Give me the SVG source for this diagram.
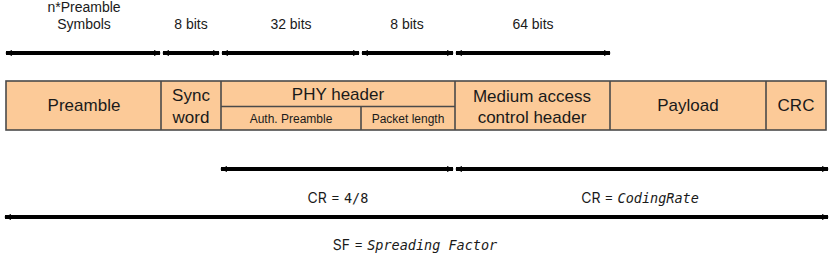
<svg xmlns="http://www.w3.org/2000/svg" width="833" height="256" viewBox="0 0 833 256">
<style>
.box{fill:#fcca98;stroke:#4a4a4a;stroke-width:1.6}
.div{stroke:#4a4a4a;stroke-width:1.6;fill:none}
.lbl{font-family:"Liberation Sans",Arial,sans-serif;fill:#1a1a1a;text-anchor:middle}
.big{font-size:17px}
.sm{font-size:12px}
.top{font-size:14px}
.dim{stroke:#000;stroke-width:4;fill:none;marker-start:url(#ah);marker-end:url(#ah)}
.cr{font-family:Inter,"Liberation Sans",sans-serif;font-size:14px;fill:#1a1a1a;text-anchor:middle}
.mono{font-family:"DejaVu Sans Mono","Liberation Mono",monospace;font-size:13.5px}
.it{font-style:italic}
</style>
<defs>
<marker id="ah" viewBox="0 0 8 8" refX="7" refY="4" markerWidth="7" markerHeight="7" markerUnits="userSpaceOnUse" orient="auto-start-reverse">
<path d="M0,0.5 L8,4 L0,7.5 z" fill="#000"/>
</marker>
</defs>

<g id="top-labels">
<text class="lbl top" x="84" y="12">n*Preamble</text>
<text class="lbl top" x="84" y="29">Symbols</text>
<text class="lbl top" x="191" y="29">8 bits</text>
<text class="lbl top" x="291" y="29">32 bits</text>
<text class="lbl top" x="407" y="29">8 bits</text>
<text class="lbl top" x="533" y="29">64 bits</text>
</g>

<g id="frame">
<rect class="box" x="6" y="81" width="820" height="49"/>
</g>
<g id="preamble">
<text class="lbl big" x="84" y="111">Preamble</text>
</g>
<g id="sync-word">
<line class="div" x1="161" y1="81" x2="161" y2="130"/>
<text class="lbl big" x="191" y="101">Sync</text>
<text class="lbl big" x="191" y="123">word</text>
</g>
<g id="phy-header">
<line class="div" x1="221" y1="81" x2="221" y2="130"/>
<line class="div" x1="221" y1="106.5" x2="455" y2="106.5"/>
<text class="lbl big" x="338" y="100">PHY header</text>
</g>
<g id="auth-preamble">
<text class="lbl sm" x="291" y="123">Auth. Preamble</text>
</g>
<g id="packet-length">
<line class="div" x1="361" y1="106.5" x2="361" y2="130"/>
<text class="lbl sm" x="408" y="123">Packet length</text>
</g>
<g id="mac-header">
<line class="div" x1="455" y1="81" x2="455" y2="130"/>
<text class="lbl big" x="532" y="102">Medium access</text>
<text class="lbl big" x="532" y="123">control header</text>
</g>
<g id="payload">
<line class="div" x1="610" y1="81" x2="610" y2="130"/>
<text class="lbl big" x="688" y="111">Payload</text>
</g>
<g id="crc">
<line class="div" x1="766" y1="81" x2="766" y2="130"/>
<text class="lbl big" x="796" y="111">CRC</text>
</g>

<g id="connectors">
<line class="dim" x1="6" y1="53" x2="160" y2="53"/>
<line class="dim" x1="163" y1="53" x2="219" y2="53"/>
<line class="dim" x1="222" y1="53" x2="359" y2="53"/>
<line class="dim" x1="362" y1="53" x2="453" y2="53"/>
<line class="dim" x1="456" y1="53" x2="610" y2="53"/>
<line class="dim" x1="221" y1="169" x2="453" y2="169"/>
<line class="dim" x1="456" y1="169" x2="828" y2="169"/>
<line class="dim" x1="5" y1="217" x2="828" y2="217"/>
</g>

<g id="rate-labels">
<text class="cr" x="338" y="203">CR = <tspan class="mono">4/8</tspan></text>
<text class="cr" x="640" y="203">CR = <tspan class="mono it">CodingRate</tspan></text>
<text class="cr" x="415" y="250">SF = <tspan class="mono it">Spreading Factor</tspan></text>
</g>
</svg>
